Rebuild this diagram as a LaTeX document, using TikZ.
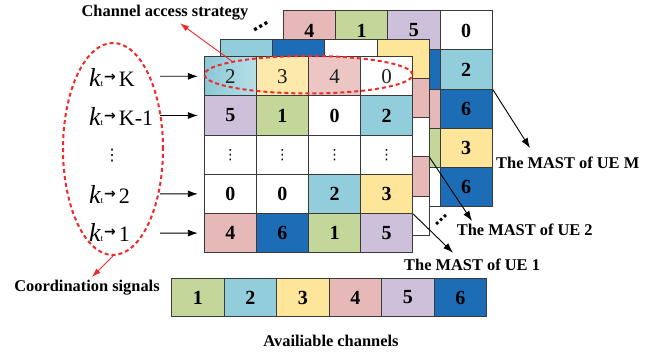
\documentclass[tikz,border=0pt]{standalone}
\usepackage{fontspec}
\setmainfont{Liberation Serif}
\newfontfamily\djv{DejaVu Sans}
\usetikzlibrary{shapes.geometric,arrows.meta}
\definecolor{cg}{HTML}{C4D79B}
\definecolor{cc}{HTML}{92CDDC}
\definecolor{cy}{HTML}{FDE59A}
\definecolor{cp}{HTML}{E6B9B8}
\definecolor{cu}{HTML}{CCC0DA}
\definecolor{cb}{HTML}{1C6DB5}
\definecolor{lc1}{HTML}{8CC8D6}
\definecolor{lc2}{HTML}{B6DFE9}
\definecolor{ly}{HTML}{FDE9AC}
\definecolor{lp}{HTML}{EBC6C5}
\definecolor{rd}{HTML}{EE2A2A}
\definecolor{ln}{HTML}{3A3A3A}
\newcommand\kt{{\fontsize{26}{26}\selectfont\itshape k}{\fontsize{9}{9}\selectfont t}\hspace{1pt}\raisebox{5pt}{\djv\bfseries\fontsize{14}{14}\selectfont →}\hspace{3pt}}
\begin{document}
\begin{tikzpicture}[x=1pt,y=-1pt,
  cell/.style={draw=ln,line width=1pt,inner sep=0pt,font=\fontsize{20}{20}\selectfont\bfseries},
  fcell/.style={cell,minimum width=52.1pt,minimum height=39.2pt},
  bcell/.style={cell,minimum width=52.25pt,minimum height=39pt},
  chcell/.style={cell,minimum width=52.5pt,minimum height=38.4pt},
  hl/.style={font=\fontsize{21}{21}\selectfont\mdseries,text=black!88},
  lab/.style={anchor=base west,inner sep=0pt,font=\fontsize{22}{22}\selectfont},
  btxt/.style={inner sep=0pt,font=\fontsize{16.4}{16.4}\selectfont\bfseries},
  ell/.style={ellipse,draw=rd,line width=2pt,dash pattern=on 4pt off 3pt,inner sep=0pt},
  redarr/.style={draw=rd,line width=0.9pt,-{Latex[length=9pt,width=6pt]}},
  blkarr/.style={draw=black,line width=0.9pt,-{Latex[length=10pt,width=7pt]}},
  dots/.style={inner sep=0pt,font=\djv\fontsize{16}{16}\selectfont},
]
\useasboundingbox[fill=white] (0,0) rectangle (656,353);

% back grid (UE M)
\foreach \r/\c/\f/\t in {1/1/cp/4,1/2/cg/1,1/3/cu/5,1/4/white/0,
  2/1/white/{},2/2/white/{},2/3/cb/{},2/4/cc/2,
  3/1/white/{},3/2/white/{},3/3/cp/{},3/4/cb/6,
  4/1/white/{},4/2/white/{},4/3/cg/{},4/4/cy/3,
  5/1/white/{},5/2/white/{},5/3/white/{},5/4/cb/6}
  \node[bcell,fill=\f] (bk-\r-\c) at ({283.3+52.25*(\c-0.5)},{11+39*(\r-0.5)}) {\t};

% middle grid (UE 2)
\foreach \r/\c/\f in {1/1/cc,1/2/cb,1/3/white,1/4/cy,
  2/1/white,2/2/white,2/3/white,2/4/cp,
  3/1/white,3/2/white,3/3/white,3/4/white,
  4/1/white,4/2/white,4/3/white,4/4/cp,
  5/1/white,5/2/white,5/3/white,5/4/white}
  \node[fcell,fill=\f] (md-\r-\c) at ({220.7+52.1*(\c-0.5)},{39.3+39.2*(\r-0.5)}) {};

% front grid (UE 1)
\node[fcell,hl,left color=lc1,right color=lc2] (fr-1-1) at ({204.3+52.1*0.5},{56.7+39.2*0.5}) {2};
\foreach \c/\f/\t in {2/ly/3,3/lp/4,4/white/0}
  \node[fcell,hl,fill=\f] (fr-1-\c) at ({204.3+52.1*(\c-0.5)},{56.7+39.2*0.5}) {\t};
\foreach \r/\c/\f/\t in {2/1/cu/5,2/2/cg/1,2/3/white/0,2/4/cc/2,
  4/1/white/0,4/2/white/0,4/3/cc/2,4/4/cy/3,
  5/1/cp/4,5/2/cb/6,5/3/cg/1,5/4/cu/5}
  \node[fcell,fill=\f] (fr-\r-\c) at ({204.3+52.1*(\c-0.5)},{56.7+39.2*(\r-0.5)}) {\t};
\foreach \c in {1,2,3,4}
  \node[fcell,fill=white,font=\djv\fontsize{14}{14}\selectfont] (fr-3-\c) at ({204.3+52.1*(\c-0.5)},{56.7+39.2*2.5}) {⋮};

% available channels
\foreach \c/\f in {1/cg,2/cc,3/cy,4/cp,5/cu,6/cb}
  \node[chcell,fill=\f] (ch-\c) at ({171.7+52.5*(\c-0.5)},297.5) {\c};

% dots between grids
\node[dots,rotate=30,font=\djv\bfseries\fontsize{18}{18}\selectfont] (dt1) at (262.3,28.8) {⋯};
\node[dots,rotate=43,font=\djv\bfseries\fontsize{16}{16}\selectfont] (dt2) at (443,221) {⋯};

% left labels
\node[lab] (k1) at (89,86) {\kt K};
\node[lab] (k2) at (89,125) {\kt K-1};
\node[dots] (kd) at (112,155.5) {⋮};
\node[lab] (k4) at (89,203.3) {\kt 2};
\node[lab] (k5) at (89,241.7) {\kt 1};

\coordinate (a1) at (160,76.3);
\coordinate (a2) at (160,115.5);
\coordinate (a4) at (160,193.9);
\coordinate (a5) at (160,233.1);
\draw[blkarr,shorten >=6pt] (a1) -- (fr-1-1.west);
\draw[blkarr,shorten >=6pt] (a2) -- (fr-2-1.west);
\draw[blkarr,shorten >=6pt] (a4) -- (fr-4-1.west);
\draw[blkarr,shorten >=6pt] (a5) -- (fr-5-1.west);

% ellipses
\node[ell,minimum width=100pt,minimum height=212pt] (sig) at (113,149) {};
\node[ell,minimum width=208pt,minimum height=37.5pt] (cas) at (308.5,74.7) {};

% text labels
\node[btxt,anchor=base] (tcas) at (165,17) {Channel access strategy};
\node[btxt,anchor=base] (tsig) at (87,291.7) {Coordination signals};
\node[btxt,anchor=base] (tch) at (331,346) {Availiable channels};
\node[btxt,anchor=base west] (tM) at (496,168.3) {The MAST of UE M};
\node[btxt,anchor=base west] (t2) at (456.7,235.7) {The MAST of UE 2};
\node[btxt,anchor=base west] (t1) at (404,270) {The MAST of UE 1};

% red arrows
\coordinate (pcas) at (180,23.3);
\coordinate (psig) at (92,277);
\draw[redarr] (cas.170) -- (pcas);
\draw[redarr] (sig.south) -- (psig);

% MAST arrows
\coordinate (pM) at (530,148);
\coordinate (p2) at (472,221);
\coordinate (p1) at (453,252.7);
\draw[blkarr] (bk-2-4.south east) -- (pM);
\draw[blkarr] (md-3-4.south east) -- (p2);
\draw[blkarr] (fr-4-4.south east) -- (p1);
\end{tikzpicture}
\end{document}
